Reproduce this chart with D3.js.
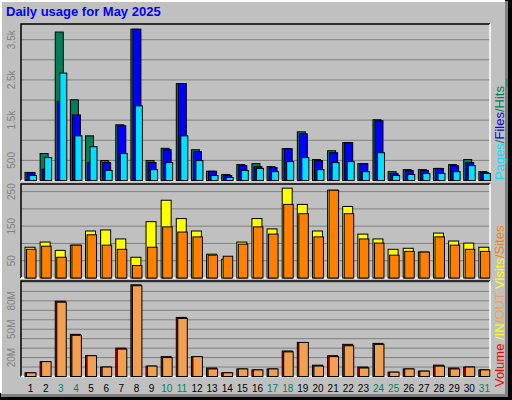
<!DOCTYPE html>
<html>
<head>
<meta charset="utf-8" />
<script src="https://d3js.org/d3.v7.min.js"></script>
<style>
  * { margin: 0; padding: 0; }
  body { background: #fff; font-family: "Liberation Sans", Arial, sans-serif; }
  .bar { stroke: #000; stroke-width: 1; }
  .grid line { stroke: #808080; stroke-width: 1; }
  .tick text { fill: #808080; font-size: 10px; }
</style>
</head>
<body>
<svg id="chart" width="512" height="400"></svg>
<script>
// days of May 2025
var days = d3.range(1, 32);
var weekend = [3, 4, 10, 11, 17, 18, 24, 25, 31];

var hits  = [200,670,3690,2005,1110,495,1385,3760,495,800,2410,765,230,150,395,420,345,790,1210,520,740,940,420,1510,220,270,270,300,395,520,220];
var files = [200,280,1960,1630,445,445,1360,3760,445,765,2410,720,230,125,370,345,320,790,1160,495,690,940,420,1485,175,250,250,300,370,445,200];
var pages = [125,570,2670,1110,840,250,670,1855,270,445,1110,495,125,75,250,300,220,470,570,270,445,470,220,690,125,150,175,175,220,370,175];

var visits = [89,104,80,95,136,139,113,60,163,225,172,136,69,54,104,172,142,260,213,136,254,207,127,113,83,86,75,130,107,101,89];
var sites  = [83,92,60,95,125,95,83,36,89,148,133,119,66,63,98,148,127,213,186,119,254,186,113,101,66,77,75,119,95,83,77];

var volIn  = [3.9,15.7,79.6,44.6,22,10,30,97,11,21,62.5,21,9,3.9,8,7,8,27,36,12,22,34,10,35,4.6,8,5.7,12,9,10,7];
var volOut = [3.9,15.7,78.6,43.6,22,10,29,96,11,20,61.4,21,8,3.9,8,7,8,26,36,11,21,32.5,9,34,4.6,8,5.7,11,8,10,7];

var svg = d3.select("#chart");

// outer frame
svg.append("rect").attr("x", 0).attr("y", 0).attr("width", 512).attr("height", 400).attr("fill", "#000");
svg.append("rect").attr("x", 1).attr("y", 1).attr("width", 507).attr("height", 396).attr("fill", "#808080");
svg.append("rect").attr("x", 1).attr("y", 1).attr("width", 504).attr("height", 393).attr("fill", "#c0c0c0");
svg.append("path").attr("d", "M1,393V1H505").attr("stroke", "#fff").attr("fill", "none").attr("stroke-width", 2);

svg.append("text").attr("x", 6).attr("y", 16)
  .attr("fill", "#0000ff").attr("font-size", 13).attr("font-weight", "bold")
  .text("Daily usage for May 2025");

var x0 = 21, x1 = 490;
var x = d3.scaleBand().domain(days).range([x0, x1]);

function panel(top, bottom, yMax, ticks, fmt) {
  var y = d3.scaleLinear().domain([0, yMax]).range([bottom, top]);
  svg.append("rect").attr("x", x0).attr("y", top).attr("width", x1 - x0).attr("height", bottom - top)
    .attr("fill", "#c0c0c0");
  var g = svg.append("g").attr("class", "grid");
  g.selectAll("line").data(ticks.filter(function(t) { return t > 0 && t < yMax; })).enter().append("line")
    .attr("x1", x0).attr("x2", x1).attr("y1", function(d) { return y(d); }).attr("y2", function(d) { return y(d); });
  svg.append("path").attr("d", "M" + x0 + "," + bottom + "V" + top + "H" + x1)
    .attr("stroke", "#000").attr("fill", "none").attr("stroke-width", 1.5);
  svg.append("path").attr("d", "M" + x0 + "," + bottom + "H" + x1 + "V" + top)
    .attr("stroke", "#fff").attr("fill", "none").attr("stroke-width", 1.5);
  return y;
}

function labels(y, vals, fmt) {
  svg.selectAll(null).data(vals).enter().append("text")
    .attr("transform", function(d) { return "translate(15," + y(d) + ") rotate(-90)"; })
    .attr("text-anchor", "middle").attr("fill", "#808080").attr("font-size", 10)
    .text(fmt);
}

function bars(y, data, off, w, color) {
  svg.append("g").selectAll("rect").data(data).enter().append("rect")
    .attr("class", "bar")
    .attr("x", function(d, i) { return x(days[i]) + off; })
    .attr("y", function(d) { return y(d); })
    .attr("width", w)
    .attr("height", function(d) { return y(0) - y(d); })
    .attr("fill", color);
}

// top panel: hits / files / pages
var yTop = panel(24, 180.5, 3890, d3.range(0, 4000, 500));
labels(yTop, [500, 1500, 2500, 3500], function(d) { return d >= 1000 ? (d / 1000) + "k" : d; });
bars(yTop, hits, 4, 8, "#00805a");
bars(yTop, files, 6, 8, "#0000ff");
bars(yTop, pages, 8.5, 7, "#00e0ff");

// middle panel: visits / sites
var yMid = panel(184, 278, 272, d3.range(0, 300, 50));
labels(yMid, [50, 150, 250], function(d) { return d; });
bars(yMid, visits, 4, 10, "#ffff00");
bars(yMid, sites, 5.5, 9.5, "#ff8000");

// bottom panel: volume
var yBot = panel(281, 376.5, 101, d3.range(0, 110, 10));
labels(yBot, [20, 50, 80], function(d) { return d + "M"; });
bars(yBot, volIn, 4, 10, "#ff0000");
bars(yBot, volOut, 5.5, 9.5, "#f0a050");

// day labels
svg.selectAll(".day").data(days).enter().append("text")
  .attr("x", function(d) { return x(d) + x.bandwidth() / 2 + 2; })
  .attr("y", 392).attr("text-anchor", "middle").attr("font-size", 10)
  .attr("fill", function(d) { return weekend.indexOf(d) >= 0 ? "#00805a" : "#000"; })
  .text(function(d) { return d; });

// right side legends
function legend(yBase, parts) {
  var t = svg.append("text").attr("transform", "translate(504," + yBase + ") rotate(-90)")
    .attr("font-size", 13);
  parts.forEach(function(p) { t.append("tspan").attr("fill", p[1]).text(p[0]); });
}
legend(180, [["Pages", "#00e0ff"], ["/", "#00805a"], ["Files", "#0000ff"], ["/", "#00805a"], ["Hits_", "#00805a"]]);
legend(387, [["Volume", "#ff0000"], ["  /", "#ffff00"], ["IN", "#ffff00"], ["/", "#f0a050"], ["OUT", "#f0a050"], ["  ", "#000"], ["Visits", "#ffff00"], ["/", "#ff8000"], ["Sites", "#ff8000"]]);
</script>
</body>
</html>
